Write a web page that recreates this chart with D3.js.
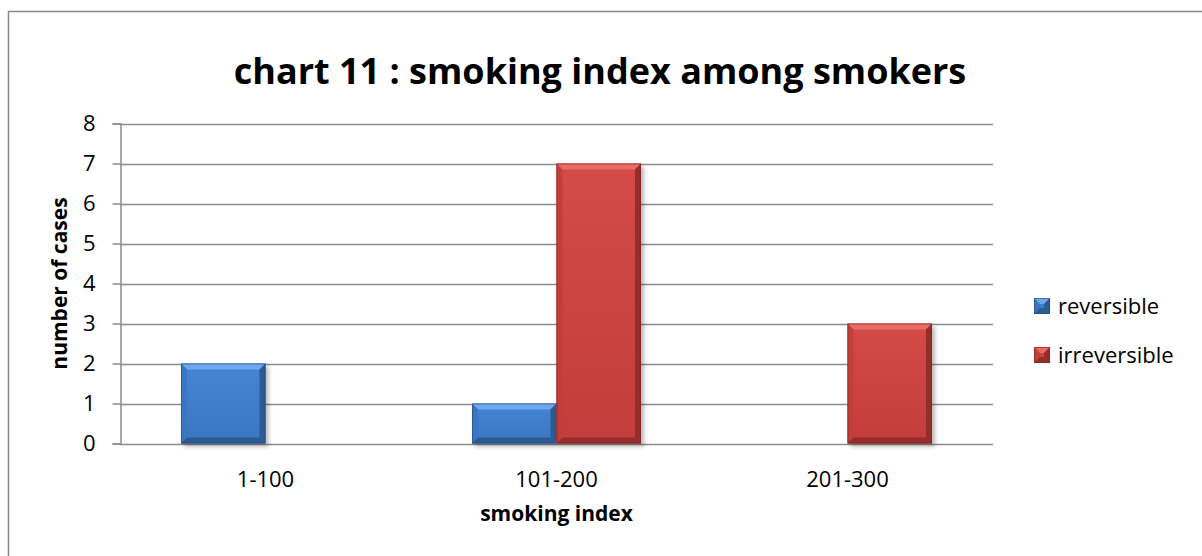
<!DOCTYPE html>
<html>
<head>
<meta charset="utf-8">
<script src="https://cdn.jsdelivr.net/npm/d3@7"></script>
<style>
  html, body { margin: 0; padding: 0; background: #fff; }
  svg { display: block; font-family: "Open Sans", "Liberation Sans", sans-serif; }
</style>
</head>
<body>
<svg id="chart" width="1202" height="556"></svg>
<script>
// Cases per smoking-index band
const categories = ["1-100", "101-200", "201-300"];
const seriesNames = ["reversible", "irreversible"];
const reversible = [2, 1, 0];
const irreversible = [0, 7, 3];
const yTicks = [0, 1, 2, 3, 4, 5, 6, 7, 8];

const palette = {
  reversible:   { base: "#3a76c1", light: "#6fa8ee", mid: "#4585d3", dark: "#2c5a93", darker: "#234a7a" },
  irreversible: { base: "#c23d3b", light: "#e96b66", mid: "#d44b48", dark: "#952d2b", darker: "#7c2423" }
};

const svg = d3.select("#chart");

// Outer chart frame
svg.append("rect")
  .attr("x", 8.5).attr("y", 11.5)
  .attr("width", 1220).attr("height", 600)
  .attr("fill", "none").attr("stroke", "#888").attr("stroke-width", 1.5);

const plot = { left: 120, right: 993, top: 123.5, bottom: 443.5 };

const x = d3.scaleBand().domain(categories).range([plot.left, plot.right]).paddingInner(0).paddingOuter(0);
const xs = d3.scaleBand().domain(seriesNames).range([0, x.bandwidth()]).paddingInner(0).paddingOuter(0.722);
const y = d3.scaleLinear().domain([0, 8]).range([plot.bottom, plot.top]);

const defs = svg.append("defs");
defs.append("filter").attr("id", "shadow").attr("x", "-20%").attr("y", "-20%").attr("width", "140%").attr("height", "140%")
  .append("feGaussianBlur").attr("stdDeviation", 2);

seriesNames.forEach(s => {
  const c = palette[s];
  const g = defs.append("linearGradient").attr("id", "grad-" + s).attr("x1", 0).attr("y1", 0).attr("x2", 0).attr("y2", 1);
  g.append("stop").attr("offset", "0%").attr("stop-color", c.mid);
  g.append("stop").attr("offset", "100%").attr("stop-color", c.base);
});

// Horizontal gridlines
svg.append("g")
  .selectAll("line")
  .data(yTicks)
  .join("line")
  .attr("x1", plot.left).attr("x2", plot.right)
  .attr("y1", d => Math.round(y(d)) + 0.5).attr("y2", d => Math.round(y(d)) + 0.5)
  .attr("stroke", "#8c8c8c").attr("stroke-width", 1.5);

// Y axis
const yAxis = d3.axisLeft(y).tickValues(yTicks).tickSize(8).tickPadding(17).tickFormat(d3.format("d"));
const yG = svg.append("g").attr("transform", `translate(${plot.left + 0.5},0)`).call(yAxis);
yG.attr("font-size", null).attr("font-family", null);
yG.select(".domain").attr("stroke", "#8c8c8c").attr("stroke-width", 1.5);
yG.selectAll(".tick line").attr("stroke", "#8c8c8c").attr("stroke-width", 1.5);
yG.selectAll(".tick text").attr("font-size", 22).attr("fill", "#000");

// X axis labels
const xAxis = d3.axisBottom(x).tickSize(0);
const xG = svg.append("g").attr("transform", `translate(0,${plot.bottom})`).call(xAxis);
xG.attr("font-size", null).attr("font-family", null);
xG.select(".domain").remove();
xG.selectAll(".tick text").attr("font-size", 22).attr("fill", "#000").attr("dy", null).attr("y", 43);

// Bevelled bar
function drawBar(parent, bx, by, bw, bh, c, gradId, withShadow) {
  const b = Math.min(6, bh / 2, bw / 2);
  const g = parent.append("g");
  if (withShadow) {
    g.append("rect").attr("x", bx + 3).attr("y", by + 3).attr("width", bw).attr("height", bh)
      .attr("fill", "#000").attr("opacity", 0.28).attr("filter", "url(#shadow)");
  }
  g.append("rect").attr("x", bx).attr("y", by).attr("width", bw).attr("height", bh).attr("fill", `url(#${gradId})`);
  const pts = a => a.map(p => p.join(",")).join(" ");
  g.append("polygon").attr("points", pts([[bx, by], [bx + bw, by], [bx + bw - b, by + b], [bx + b, by + b]])).attr("fill", c.light);
  g.append("polygon").attr("points", pts([[bx, by], [bx + b, by + b], [bx + b, by + bh - b], [bx, by + bh]])).attr("fill", c.base).attr("opacity", 0.9);
  g.append("polygon").attr("points", pts([[bx + bw, by], [bx + bw, by + bh], [bx + bw - b, by + bh - b], [bx + bw - b, by + b]])).attr("fill", c.dark);
  g.append("polygon").attr("points", pts([[bx, by + bh], [bx + b, by + bh - b], [bx + bw - b, by + bh - b], [bx + bw, by + bh]])).attr("fill", c.dark);
  g.append("rect").attr("x", bx + 0.5).attr("y", by + 0.5).attr("width", bw - 1).attr("height", bh - 1)
    .attr("fill", "none").attr("stroke", c.darker).attr("stroke-width", 1).attr("opacity", 0.6);
}

const series = { reversible, irreversible };
const barsG = svg.append("g");
seriesNames.forEach(s => {
  series[s].forEach((v, i) => {
    if (v <= 0) return;
    const bx = x(categories[i]) + xs(s);
    const by = y(v);
    drawBar(barsG, bx, by, xs.bandwidth(), y(0) - by, palette[s], "grad-" + s, true);
  });
});

// Title
svg.append("text")
  .attr("x", 600).attr("y", 84)
  .attr("text-anchor", "middle")
  .attr("font-size", 36).attr("font-weight", "bold")
  .attr("fill", "#000")
  .text("chart 11 : smoking index among smokers");

// Axis titles
svg.append("text")
  .attr("x", (plot.left + plot.right) / 2).attr("y", 521)
  .attr("text-anchor", "middle")
  .attr("font-size", 21).attr("font-weight", "bold").attr("fill", "#000")
  .text("smoking index");

svg.append("text")
  .attr("transform", `translate(67,${(plot.top + plot.bottom) / 2}) rotate(-90)`)
  .attr("text-anchor", "middle")
  .attr("font-size", 21).attr("font-weight", "bold").attr("fill", "#000")
  .text("number of cases");

// Legend
const legend = svg.append("g").attr("transform", "translate(1034,298)");
seriesNames.forEach((s, i) => {
  const row = legend.append("g").attr("transform", `translate(0,${i * 49})`);
  drawBar(row, 0, 0, 16, 16, palette[s], "grad-" + s, false);
  row.append("text").attr("x", 24).attr("y", 16)
    .attr("font-size", 22).attr("fill", "#000").text(s);
});
</script>
</body>
</html>
